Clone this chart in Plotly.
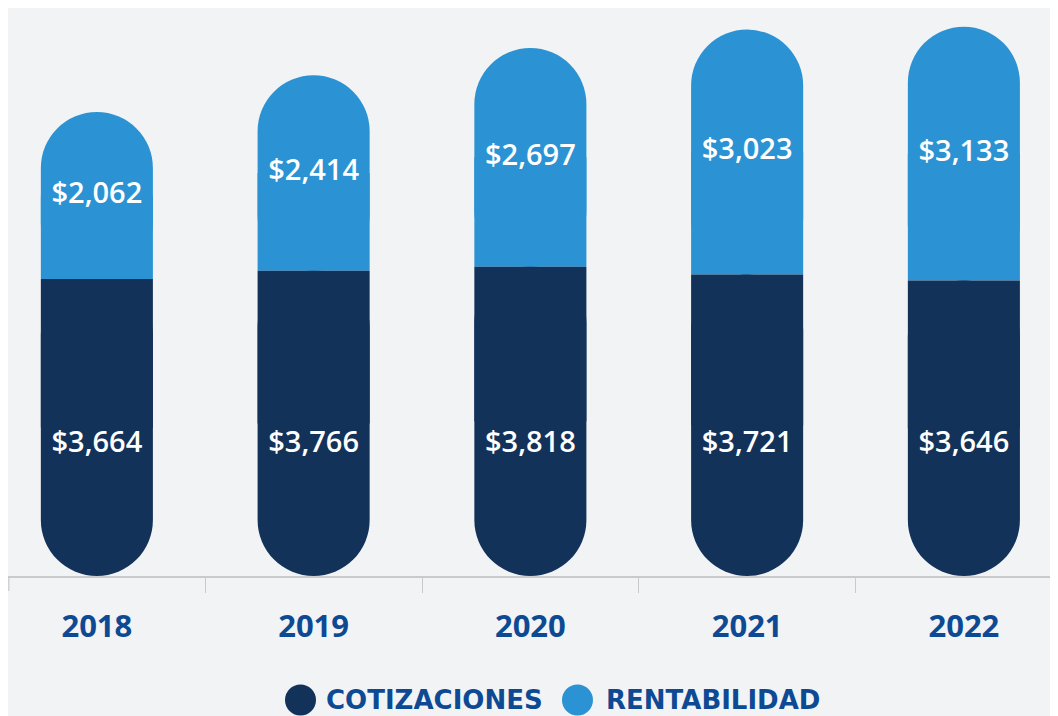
import plotly.graph_objects as go

years = ["2018", "2019", "2020", "2021", "2022"]
cotizaciones = [3664, 3766, 3818, 3721, 3646]
rentabilidad = [2062, 2414, 2697, 3023, 3133]
series_names = ["COTIZACIONES", "RENTABILIDAD"]

DARK = "#13325a"
LIGHT = "#2b93d3"
TXT = "#0e4a94"
BG = "#f2f3f5"
AXC = "#c9cacd"
FONT = "Open Sans"
W = 0.517

fmt = lambda v: f"${v:,}"
half_c = [c / 2 for c in cotizaciones]
half_r = [r / 2 for r in rentabilidad]
mid_r = [c + r / 2 for c, r in zip(cotizaciones, rentabilidad)]

fig = go.Figure()
common = dict(x=years, width=W, hoverinfo="skip", showlegend=False)

# light pill (rounded both ends) from top of dark segment to total
fig.add_trace(go.Bar(y=rentabilidad, base=cotizaciones, name=series_names[1],
                     marker=dict(color=LIGHT, cornerradius="50%", line=dict(width=0)),
                     **common))
# dark pill (rounded both ends) from 0 to its value
fig.add_trace(go.Bar(y=[-v for v in cotizaciones], base=cotizaciones, name=series_names[0],
                     marker=dict(color=DARK, cornerradius="50%", line=dict(width=0)),
                     **common))
# square joints where the two segments meet
fig.add_trace(go.Bar(y=half_r, base=cotizaciones,
                     marker=dict(color=LIGHT, line=dict(width=0)), **common))
fig.add_trace(go.Bar(y=half_c, base=half_c,
                     marker=dict(color=DARK, line=dict(width=0)), **common))

lab_font = dict(color="white", size=29, family=FONT, weight=600)
fig.add_trace(go.Scatter(x=years, y=mid_r, mode="text",
                         text=[fmt(v) for v in rentabilidad], textfont=lab_font,
                         hoverinfo="skip", showlegend=False, cliponaxis=False))
fig.add_trace(go.Scatter(x=years, y=[1620] * len(years), mode="text",
                         text=[fmt(v) for v in cotizaciones], textfont=lab_font,
                         hoverinfo="skip", showlegend=False, cliponaxis=False))

fig.update_layout(
    width=1050, height=708,
    margin=dict(l=0, r=2, t=0, b=140),
    paper_bgcolor=BG, plot_bgcolor=BG,
    barmode="overlay",
    xaxis=dict(
        type="category", range=[-0.41, 4.425],
        showline=True, linecolor=AXC, linewidth=1.5,
        ticks="outside", tickson="boundaries", ticklen=15,
        tickcolor=AXC, tickwidth=1.2,
        showgrid=False, zeroline=False,
        tickfont=dict(color=TXT, size=31, family=FONT, weight=700),
        ticklabelstandoff=22,
    ),
    yaxis=dict(range=[0, 7010], visible=False, showgrid=False, zeroline=False),
    showlegend=False,
)

for px in (0.0008, 0.9995):
    fig.add_shape(type="line", xref="paper", yref="paper",
                  x0=px, x1=px, y0=0, y1=-15 / 568,
                  line=dict(color=AXC, width=1.2))

legend_items = [(series_names[0], DARK, 0.2791, 0.3015),
                (series_names[1], LIGHT, 0.5434, 0.5687)]
ly = -0.2183
for name, col, cx, tx in legend_items:
    fig.add_shape(type="circle", xref="paper", yref="paper",
                  xsizemode="pixel", ysizemode="pixel",
                  xanchor=cx, yanchor=ly, x0=-15.5, x1=15.5, y0=-15.5, y1=15.5,
                  fillcolor=col, line=dict(width=0))
    fig.add_annotation(xref="paper", yref="paper", x=tx, y=ly,
                       xanchor="left", yanchor="middle", showarrow=False,
                       text=name,
                       font=dict(color=TXT, size=26, family="DejaVu Sans", weight=700))

fig.write_html("out.html")
